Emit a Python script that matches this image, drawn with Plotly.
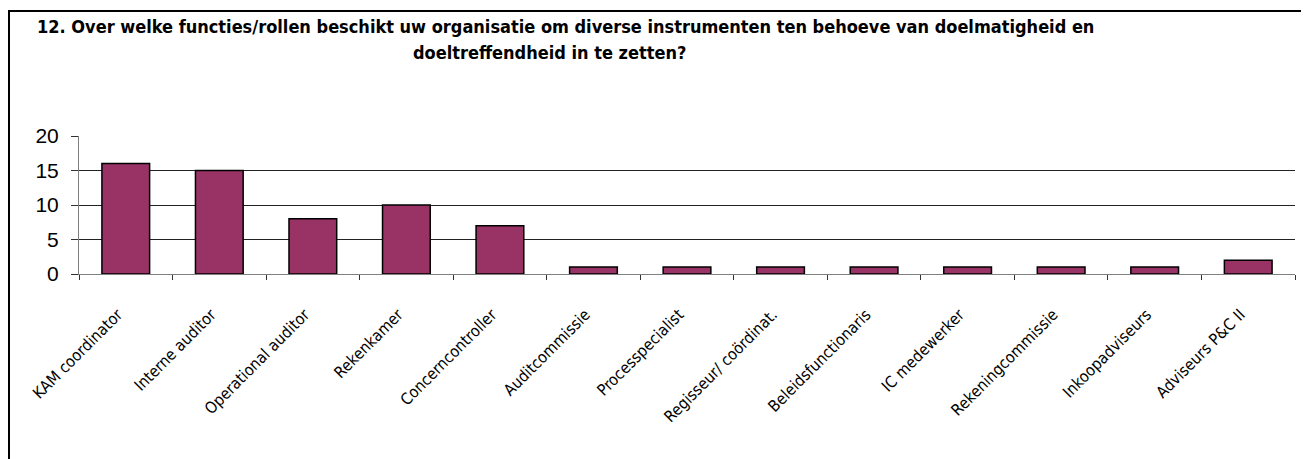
import plotly.graph_objects as go

# the page body has an 8px margin, so the figure is drawn 8px to the right and down
OFF = 8
W, H = 1309 - OFF, 459 - OFF

categories = [
    "KAM coordinator", "Interne auditor", "Operational auditor", "Rekenkamer",
    "Concerncontroller", "Auditcommissie", "Processpecialist",
    "Regisseur/ coördinat.", "Beleidsfunctionaris", "IC medewerker",
    "Rekeningcommissie", "Inkoopadviseurs", "Adviseurs P&C II",
]
counts = [16, 15, 8, 10, 7, 1, 1, 1, 1, 1, 1, 1, 2]
y_ticks = [0, 5, 10, 15, 20]

title_1 = ("12. Over welke functies/rollen beschikt uw organisatie om diverse "
           "instrumenten ten behoeve van doelmatigheid en")
title_2 = "doeltreffendheid in te zetten?"

narrow = "DejaVu Sans Condensed, Liberation Sans Narrow, Liberation Sans, sans-serif"

# plot area in screen pixels
px_left, px_right = 79, 1295
px_top, px_bottom = 136, 274

L = px_left - OFF
R = W - (px_right - OFF)
T = px_top - OFF
B = H - (px_bottom - OFF)
pw = W - L - R
ph = H - T - B


def fx(x):
    return (x - OFF - L) / pw


def fy(y):
    return (H - B - (y - OFF)) / ph


fig = go.Figure(go.Bar(
    x=categories,
    y=counts,
    width=0.51,
    marker=dict(color="#993366", line=dict(color="#000000", width=1.5)),
))

fig.update_layout(
    width=W,
    height=H,
    margin=dict(l=L, r=R, t=T, b=B),
    paper_bgcolor="white",
    plot_bgcolor="white",
    showlegend=False,
    font=dict(family=narrow, color="black"),
)

fig.update_xaxes(
    showline=True, linecolor="#808080", linewidth=1,
    ticks="outside", tickson="boundaries", ticklen=5, tickcolor="#333",
    tickangle=-45, tickfont=dict(size=16, family=narrow),
    ticklabelstandoff=24, ticklabelshift=-8,
    showgrid=False,
)
fig.update_yaxes(
    range=[0, 20], tickvals=y_ticks,
    showline=True, linecolor="#808080", linewidth=1,
    ticks="outside", ticklen=7, tickcolor="#333",
    ticklabelstandoff=8,
    showgrid=True, gridcolor="#222", gridwidth=1,
    tickfont=dict(size=21, family="Liberation Sans, Arial, sans-serif"),
    zeroline=False,
)

# outer chart frame
fig.add_shape(
    type="rect", xref="paper", yref="paper",
    x0=fx(9), x1=fx(1306), y0=fy(462), y1=fy(11),
    line=dict(color="black", width=2), fillcolor="rgba(0,0,0,0)",
    layer="below",
)

for text, cx, cy in [(title_1, 565, 26), (title_2, 549, 52)]:
    fig.add_annotation(
        text="<b>" + text + "</b>",
        xref="paper", yref="paper",
        x=fx(cx), y=fy(cy), xanchor="center", yanchor="middle",
        showarrow=False,
        font=dict(size=18, family=narrow, color="black"),
    )

fig.write_html("out.html")
